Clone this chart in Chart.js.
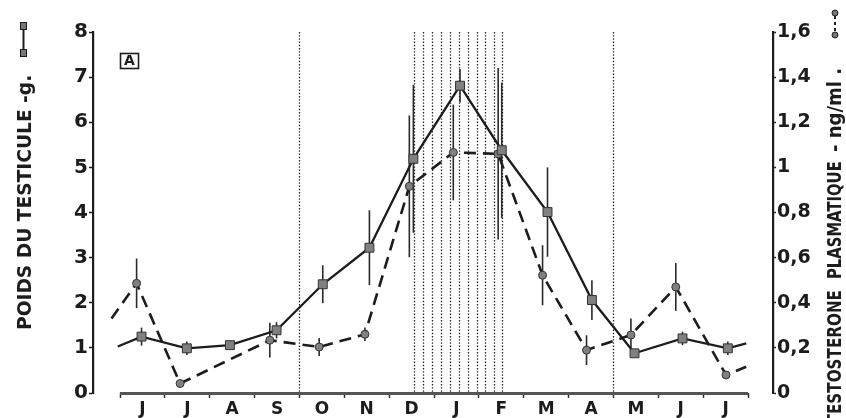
<!DOCTYPE html>
<html>
<head>
<meta charset="utf-8">
<script src="https://cdn.jsdelivr.net/npm/chart.js@4.4.1/dist/chart.umd.min.js"></script>
<style>
  html, body { margin: 0; padding: 0; background: #fff; }
  #wrap { width: 846px; height: 418px; }
</style>
</head>
<body>
<div id="wrap"><canvas id="chart" width="846" height="418"></canvas></div>
<script>
// Month letters (June to July of the following year)
const months = ['J', 'J', 'A', 'S', 'O', 'N', 'D', 'J', 'F', 'M', 'A', 'M', 'J', 'J'];

// Testis weight (g) - solid line, left axis. x = position in months from start of June
const weightX = [-0.05, 0.48, 1.49, 2.45, 3.49, 4.52, 5.56, 6.54, 7.58, 8.51, 9.53, 10.52, 11.47, 12.54, 13.55, 13.96];
const weightY = [1.03, 1.25, 0.99, 1.06, 1.39, 2.41, 3.22, 5.19, 6.81, 5.38, 4.01, 2.06, 0.88, 1.21, 0.99, 1.10];
const weightErr = [0, 0.2, 0.15, 0.05, 0.18, 0.42, 0.83, 1.64, 0.37, 1.5, 0.99, 0.44, 0.05, 0.15, 0.15, 0];

// Plasma testosterone (ng/ml) - dashed line, right axis
const testoX = [-0.19, 0.37, 1.34, 3.34, 4.44, 5.46, 6.45, 7.43, 8.43, 9.42, 10.40, 11.39, 12.39, 13.51, 13.96];
const testoY = [0.33, 0.486, 0.042, 0.234, 0.204, 0.26, 0.916, 1.066, 1.06, 0.522, 0.19, 0.257, 0.47, 0.08, 0.116];
const testoErr = [0, 0.11, 0, 0.077, 0.04, 0.03, 0.314, 0.212, 0.38, 0.133, 0.066, 0.073, 0.106, 0, 0];

// Dotted vertical markers (months)
const markerX = [4, 6.56, 6.75, 6.95, 7.15, 7.36, 7.56, 7.75, 7.95, 8.14, 8.34, 8.52, 11];

const leftTicks = [0, 1, 2, 3, 4, 5, 6, 7, 8];
const rightTicks = [0, 0.2, 0.4, 0.6, 0.8, 1, 1.2, 1.4, 1.6];

const FONT = '"DejaVu Sans", Verdana, sans-serif';
const INK = '#1c1c1c';

function toPoints(xs, ys) {
    return xs.map((x, i) => ({ x: x, y: ys[i] }));
}

function endRadius(n, r) {
    return Array.from({ length: n }, (_, i) => (i === 0 || i === n - 1) ? 0 : r);
}

// rotated text reading bottom to top; sx squeezes along the text
function upText(ctx, str, x, y, align, sx) {
    ctx.save();
    ctx.translate(x, y);
    ctx.rotate(-Math.PI / 2);
    ctx.scale(sx, 1);
    ctx.textAlign = align;
    ctx.fillText(str, 0, 0);
    ctx.restore();
}

// Vertical dotted lines, error bars, titles
const decorPlugin = {
    id: 'decor',
    beforeDatasetsDraw(chart) {
        const ctx = chart.ctx;
        const xs = chart.scales.x;
        const yl = chart.scales.yL;
        ctx.save();
        ctx.strokeStyle = '#222';
        ctx.lineWidth = 1.3;
        ctx.setLineDash([1.4, 1.8]);
        markerX.forEach(m => {
            const px = Math.round(xs.getPixelForValue(m)) + 0.5;
            ctx.beginPath();
            ctx.moveTo(px, yl.getPixelForValue(8));
            ctx.lineTo(px, yl.getPixelForValue(0));
            ctx.stroke();
        });
        ctx.restore();

        // error bars
        ctx.save();
        ctx.strokeStyle = '#2a2a2a';
        ctx.lineWidth = 1.6;
        chart.data.datasets.forEach(ds => {
            const ys = chart.scales[ds.yAxisID];
            ds.data.forEach((p, i) => {
                const e = ds.errors[i];
                if (!e) return;
                const px = xs.getPixelForValue(p.x);
                ctx.beginPath();
                ctx.moveTo(px, ys.getPixelForValue(p.y + e));
                ctx.lineTo(px, ys.getPixelForValue(p.y - e));
                ctx.stroke();
            });
        });
        ctx.restore();
    },
    afterDraw(chart) {
        const ctx = chart.ctx;
        const xs = chart.scales.x;
        const yl = chart.scales.yL;
        const y0 = yl.getPixelForValue(0);

        // x axis bar from first to last month boundary
        ctx.save();
        ctx.strokeStyle = '#555';
        ctx.lineWidth = 3;
        ctx.beginPath();
        ctx.moveTo(xs.getPixelForValue(0), y0 + 0.5);
        ctx.lineTo(xs.getPixelForValue(14), y0 + 0.5);
        ctx.stroke();
        ctx.restore();

        // panel letter
        const bx = xs.getPixelForValue(0);
        ctx.save();
        ctx.strokeStyle = INK;
        ctx.lineWidth = 1.6;
        ctx.strokeRect(bx + 0.5, 53.5, 18, 15);
        ctx.fillStyle = INK;
        ctx.font = 'bold 14px ' + FONT;
        ctx.textAlign = 'center';
        ctx.textBaseline = 'middle';
        ctx.fillText('A', bx + 9.5, 61.5);
        ctx.restore();

        // axis titles
        ctx.save();
        ctx.fillStyle = INK;
        ctx.font = 'bold 19px ' + FONT;
        upText(ctx, 'POIDS DU TESTICULE -g.', 31, 330, 'left', 0.98);
        ctx.font = 'bold 20px ' + FONT;
        upText(ctx, 'TESTOSTERONE', 841, 290, 'right', 0.76);
        upText(ctx, 'PLASMATIQUE', 841, 279, 'left', 0.74);
        upText(ctx, '- ng/ml .', 841, 152, 'left', 0.9);
        ctx.restore();

        // legend symbols
        ctx.save();
        ctx.strokeStyle = INK;
        ctx.fillStyle = '#777';
        ctx.lineWidth = 2;
        ctx.beginPath();
        ctx.moveTo(23.5, 26);
        ctx.lineTo(23.5, 54);
        ctx.stroke();
        ctx.lineWidth = 1;
        [26, 53].forEach(y => {
            ctx.fillRect(20.5, y - 3.5, 6, 7);
            ctx.strokeRect(20.5, y - 3.5, 6, 7);
        });
        ctx.lineWidth = 2;
        ctx.setLineDash([3, 3]);
        ctx.beginPath();
        ctx.moveTo(835, 16);
        ctx.lineTo(835, 32);
        ctx.stroke();
        ctx.setLineDash([]);
        ctx.lineWidth = 1;
        [13, 35].forEach(y => {
            ctx.beginPath();
            ctx.arc(835, y, 3, 0, Math.PI * 2);
            ctx.fill();
            ctx.stroke();
        });
        ctx.restore();
    }
};

const ctx = document.getElementById('chart');

new Chart(ctx, {
    type: 'line',
    data: {
        datasets: [
            {
                label: 'Poids du testicule',
                data: toPoints(weightX, weightY),
                errors: weightErr,
                yAxisID: 'yL',
                borderColor: INK,
                borderWidth: 2.3,
                pointStyle: 'rect',
                pointRadius: endRadius(weightX.length, 6.3),
                pointBackgroundColor: '#808080',
                pointBorderColor: '#333',
                pointBorderWidth: 1,
                tension: 0
            },
            {
                label: 'Testosterone plasmatique',
                data: toPoints(testoX, testoY),
                errors: testoErr,
                yAxisID: 'yR',
                borderColor: INK,
                borderWidth: 2.6,
                borderDash: [12, 7],
                pointStyle: 'circle',
                pointRadius: endRadius(testoX.length, 4),
                pointBackgroundColor: '#808080',
                pointBorderColor: '#333',
                pointBorderWidth: 1,
                tension: 0
            }
        ]
    },
    options: {
        responsive: false,
        animation: false,
        layout: { padding: { top: 32, left: 0, right: 0, bottom: 0 } },
        plugins: {
            legend: { display: false },
            tooltip: { enabled: false }
        },
        scales: {
            x: {
                type: 'linear',
                min: -0.602,
                max: 14.557,
                afterFit: s => { s.height = 25; },
                afterBuildTicks: s => {
                    s.ticks = months.map((m, i) => ({ value: i })).concat([{ value: 14 }]);
                },
                border: { display: false },
                grid: {
                    drawOnChartArea: false,
                    drawTicks: true,
                    tickLength: 5,
                    tickWidth: 1.5,
                    color: '#333'
                },
                ticks: {
                    autoSkip: false,
                    maxRotation: 0,
                    padding: 1,
                    labelOffset: 22.43,
                    color: INK,
                    font: { family: FONT, size: 17, weight: 'bold' },
                    callback: (v, i) => months[i] || ''
                }
            },
            yL: {
                position: 'left',
                min: 0,
                max: 8,
                afterFit: s => { s.width = 93; },
                afterBuildTicks: s => { s.ticks = leftTicks.map(v => ({ value: v })); },
                border: { display: true, color: INK, width: 2.2 },
                grid: { drawOnChartArea: false, tickLength: 4, tickWidth: 1.5, color: INK },
                ticks: {
                    padding: 1,
                    color: INK,
                    font: { family: FONT, size: 20, weight: 'bold' },
                    callback: v => String(v)
                }
            },
            yR: {
                position: 'right',
                min: 0,
                max: 1.6,
                afterFit: s => { s.width = 73; },
                afterBuildTicks: s => { s.ticks = rightTicks.map(v => ({ value: v })); },
                border: { display: true, color: INK, width: 2.2 },
                grid: { drawOnChartArea: false, tickLength: 3, tickWidth: 1.5, color: INK },
                ticks: {
                    padding: 1,
                    color: INK,
                    font: { family: FONT, size: 19, weight: 'bold' },
                    callback: v => String(Math.round(v * 10) / 10).replace('.', ',')
                }
            }
        }
    },
    plugins: [decorPlugin]
});
</script>
</body>
</html>
